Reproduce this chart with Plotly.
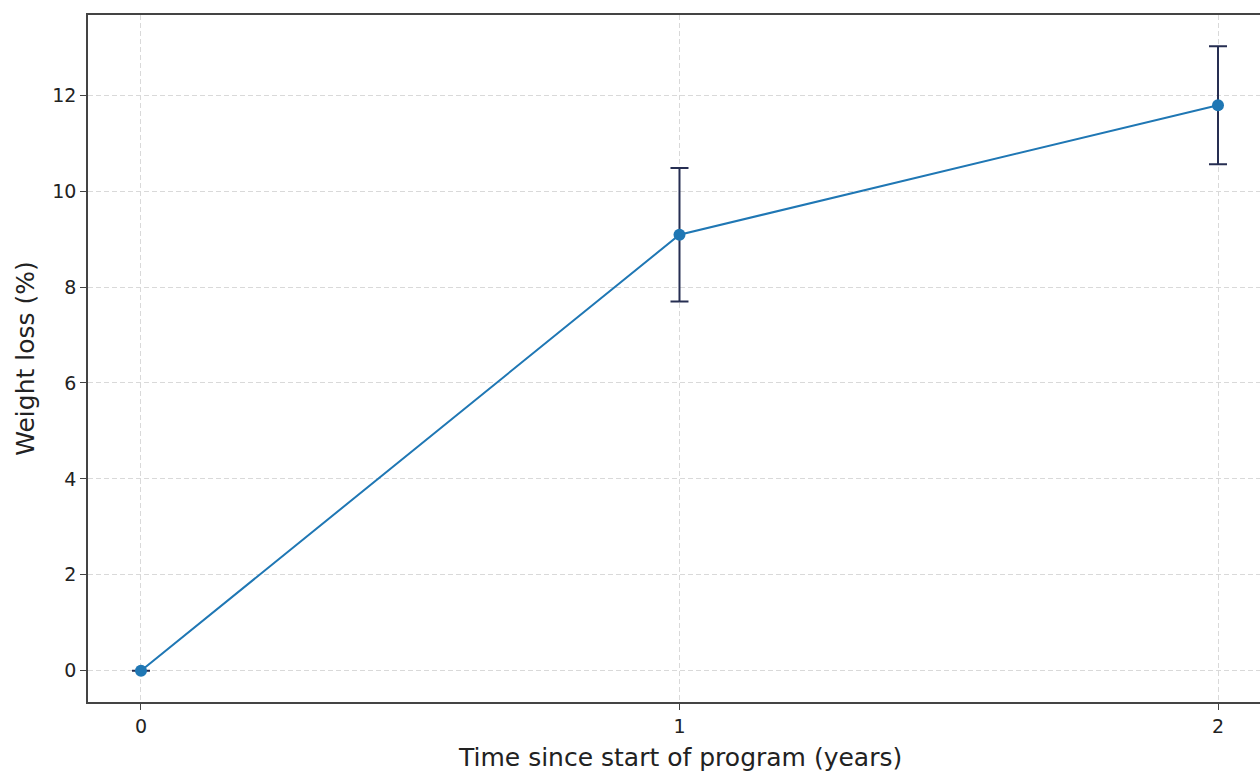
import plotly.graph_objects as go

years = [0, 1, 2]
weight_loss = [0.0, 9.09, 11.79]
error = [0.0, 1.39, 1.23]
x_ticks = [0, 1, 2]
y_ticks = [0, 2, 4, 6, 8, 10, 12]
x_title = "Time since start of program (years)"
y_title = "Weight loss (%)"

fig = go.Figure()
fig.add_trace(go.Scatter(
    x=years, y=weight_loss, mode="lines+markers",
    line=dict(color="#1f77b4", width=2),
    marker=dict(color="#1f77b4", size=12),
    error_y=dict(type="data", array=error, visible=True, color="#262e52",
                 thickness=2, width=9),
    showlegend=False,
))

font = "DejaVu Sans, sans-serif"
fig.update_layout(
    width=1260, height=774,
    margin=dict(l=88, r=0, t=15, b=72),
    paper_bgcolor="white", plot_bgcolor="white",
    font=dict(family=font, color="#222222"),
)
fig.update_xaxes(
    range=[-0.0984, 2.078], tickvals=x_ticks, ticktext=[str(v) for v in x_ticks],
    showline=True, linecolor="#444444", linewidth=1.5, mirror=True,
    ticks="outside", ticklen=6, tickcolor="#444444", tickwidth=1.2,
    tickfont=dict(size=19),
    showgrid=True, gridcolor="#d9d9d9", griddash="5px,3px", gridwidth=1,
    zeroline=False,
)
fig.update_yaxes(
    range=[-0.651, 13.67], tickvals=y_ticks, ticktext=[str(v) for v in y_ticks],
    showline=True, linecolor="#444444", linewidth=1.5, mirror=False,
    ticks="outside", ticklen=6, tickcolor="#444444", tickwidth=1.2,
    tickfont=dict(size=19),
    showgrid=True, gridcolor="#d9d9d9", griddash="5px,3px", gridwidth=1,
    zeroline=False,
    title=dict(text=y_title, font=dict(size=25), standoff=11),
)
fig.add_annotation(
    text=x_title, xref="paper", yref="paper", x=0.505, y=-0.0815,
    xanchor="center", yanchor="middle", showarrow=False,
    font=dict(size=25, family=font, color="#222222"),
)
fig.write_html("out.html", config={"displayModeBar": False},
               post_script="document.body.style.margin='0';document.body.style.overflow='hidden';")
